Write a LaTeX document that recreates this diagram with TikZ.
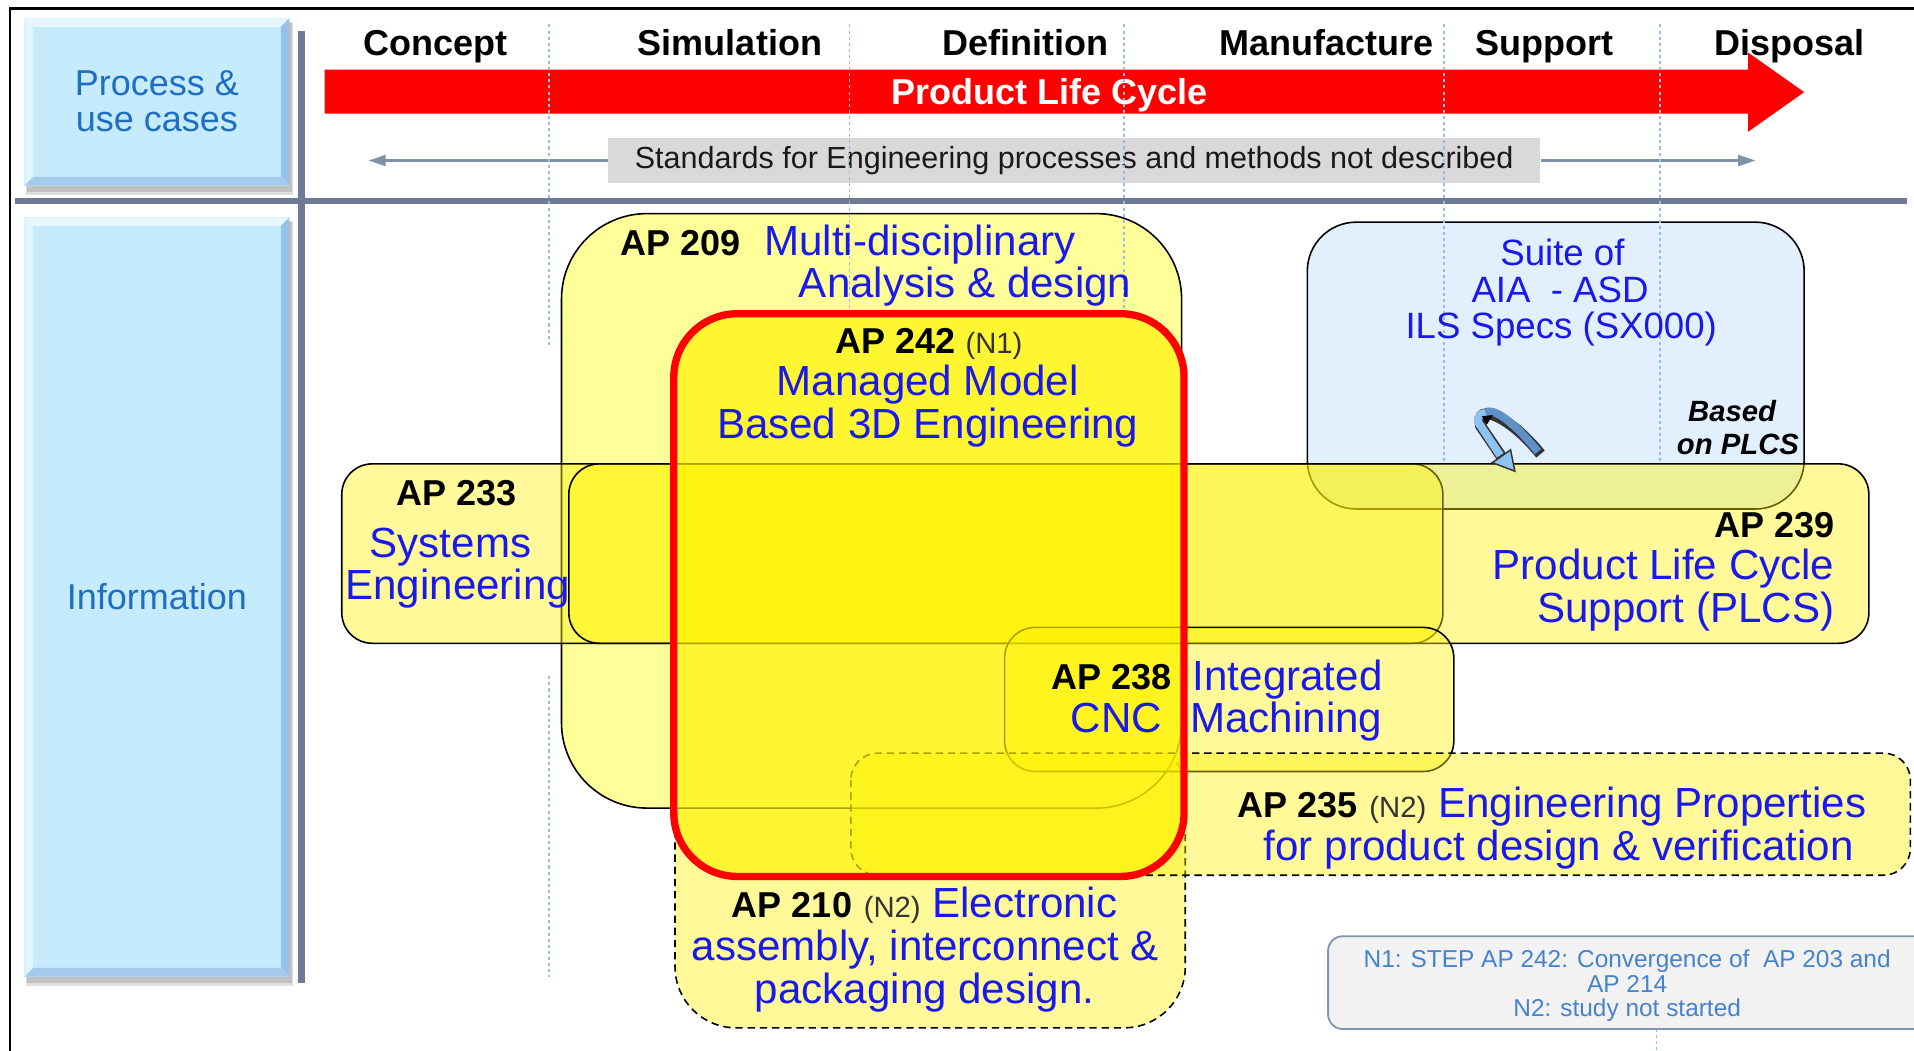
\documentclass[tikz,border=0pt]{standalone}
\usepackage{fontspec}
\setmainfont{Liberation Sans}
\usetikzlibrary{arrows.meta}

\definecolor{sidefill}{RGB}{198,235,252}
\definecolor{sidelight}{RGB}{232,247,254}
\definecolor{sidedark}{RGB}{150,193,232}
\definecolor{sidetext}{RGB}{31,110,195}
\definecolor{divider}{RGB}{111,123,148}
\definecolor{stdgray}{RGB}{217,217,217}
\definecolor{stdline}{RGB}{128,145,170}
\definecolor{dotblue}{RGB}{150,190,228}
\definecolor{apblue}{RGB}{25,25,235}
\definecolor{lightylw}{RGB}{255,255,153}
\definecolor{suitefill}{RGB}{226,239,252}
\definecolor{notefill}{RGB}{242,242,242}
\definecolor{noteline}{RGB}{132,151,176}
\definecolor{notetext}{RGB}{70,130,205}
\definecolor{uturn}{RGB}{140,195,240}
\definecolor{uturndark}{RGB}{95,145,200}

\newcommand\setfs[2]{\fontsize{#1}{#2}\selectfont}
% small grey note marker such as (N1)
\newcommand\notemark[1]{{\mdseries\setfs{24}{26}\color{black!80}(#1)}}
% bold black AP number inside blue text
\newcommand\apref[1]{{\bfseries\setfs{29.5}{32}\color{black}AP #1}}

% bevelled light-blue side panel: x1 y1 x2 y2
\newcommand\sidepanel[4]{%
  \fill[black!25, opacity=.5] (#1+1,#2+4) rectangle (#3+3,#4+8);
  \fill[black!35, opacity=.5] (#1+2,#2+3) rectangle (#3+2,#4+5);
  \fill[sidefill] (#1,#2) rectangle (#3,#4);
  \fill[sidelight] (#1,#2) -- (#3,#2) -- (#3-7,#2+7) -- (#1+7,#2+7) -- cycle;
  \fill[sidedark] (#3,#2) -- (#3,#4) -- (#3-7,#4-7) -- (#3-7,#2+7) -- cycle;
  \fill[sidedark!85!white] (#1,#4) -- (#3,#4) -- (#3-7,#4-7) -- (#1+7,#4-7) -- cycle;
  \fill[sidefill!55!white] (#1,#2) -- (#1+7,#2+7) -- (#1+7,#4-7) -- (#1,#4) -- cycle;
}

\begin{document}
\begin{tikzpicture}[x=1pt,y=-1pt,
  phase/.style={font=\bfseries\setfs{29.5}{32}, anchor=base, inner sep=0pt},
  sidelabel/.style={font=\setfs{29.5}{30}, text=sidetext, align=center, inner sep=0pt},
  apnum/.style={font=\bfseries\setfs{29.5}{32}, anchor=base, inner sep=0pt},
  aptext/.style={font=\setfs{34.5}{36}, text=apblue, anchor=base, inner sep=0pt},
  suitetext/.style={font=\setfs{30}{32}, text=apblue, anchor=base, inner sep=0pt},
  notetxt/.style={font=\setfs{20}{20}, text=notetext, anchor=base, inner sep=0pt},
  apbox/.style={draw=black, line width=1.3pt, fill=yellow, fill opacity=.4},
  dashbox/.style={apbox, dash pattern=on 6pt off 4pt},
  dotline/.style={dotblue, line width=1.4pt, dash pattern=on 2.5pt off 2.5pt},
  stdarrow/.style={stdline, line width=1.8pt, -{Triangle[length=14pt,width=9pt]}},
  stdbox/.style={fill=stdgray, minimum width=764pt, minimum height=37pt, inner sep=0pt,
    font=\setfs{25}{26}, text=black!90}
]
\useasboundingbox (0,0) rectangle (1568,861);
\fill[white] (0,0) rectangle (1568,861);

% outer frame
\draw[line width=2pt] (8,861) -- (8,7) -- (1568,7);

% side panels
\sidepanel{20}{15}{237}{152}
\sidepanel{20}{178}{237}{800}
\node[sidelabel] (proc) at (128.5,83) {Process \&\\use cases};
\node[sidelabel] (info) at (128.5,489) {Information};

% dividers
\draw[divider, line width=5pt] (247,25) -- (247,805);
\draw[divider, line width=5pt] (12,165) -- (1562,165);

% life-cycle arrow
\fill[red] (266,57) -- (1432,57) -- (1432,43) -- (1478,75.5) -- (1432,108) -- (1432,93) -- (266,93) -- cycle;
\node[font=\bfseries\setfs{29.5}{32}, text=white, anchor=base, inner sep=0pt] (plc) at (860,85.5) {Product Life Cycle};

% standards band
\node[stdbox] (std) at (880,131.5) {Standards for Engineering processes and methods not described};
\coordinate (stdL) at (302,131.5);
\coordinate (stdR) at (1438,131.5);
\draw[stdarrow] (std.west) -- (stdL);
\draw[stdarrow] (std.east) -- (stdR);

% phase labels
\node[phase] (concept) at (357,45.5) {Concept};
\node[phase] (simul) at (598,45.5) {Simulation};
\node[phase] (defin) at (840,45.5) {Definition};
\node[phase] (manuf) at (1087,45.5) {Manufacture};
\node[phase] (supp) at (1265,45.5) {Support};
\node[phase] (disp) at (1466,45.5) {Disposal};

% AP 210 (lowest layer)
\draw[dashbox, rounded corners=50pt] (553,600) rectangle (971,842);
% AP 209
\draw[draw=black, line width=1.3pt, fill=lightylw, rounded corners=70pt] (460,175) rectangle (968,662);
% AIA-ASD suite
\draw[draw=black, line width=1.3pt, fill=suitefill, rounded corners=40pt] (1071,182) rectangle (1478,417);

% phase separators
\draw[dotline] (450,20) -- (450,283);
\draw[dotline] (450,554) -- (450,800);
\draw[dotline] (696,20) -- (696,257);
\draw[dotline] (921,20) -- (921,257);
\draw[dotline] (1183,20) -- (1183,380);
\draw[dotline] (1360,20) -- (1360,380);
\draw[dotline] (1357,843) -- (1357,861);

% AP 233 and AP 239 bands
\draw[apbox, rounded corners=25pt] (280,380) rectangle (1182,527);
\draw[apbox, rounded corners=25pt] (466,380) rectangle (1531,527);
% AP 238
\draw[apbox, rounded corners=25pt] (823,514) rectangle (1191,632);
% AP 235
\draw[dashbox, rounded corners=22pt] (697,617) rectangle (1565,717);
% AP 242
\draw[red, line width=6pt, fill=yellow, fill opacity=.67, rounded corners=52pt] (552,257) rectangle (970,718);

% AP 209 text
\node[apnum, anchor=base west] (a209) at (508,209) {AP 209};
\node[aptext, anchor=base west] (a209t) at (626,209) {Multi-disciplinary};
\node[aptext, anchor=base east] (a209u) at (927,244) {Analysis \& design};

% AP 242 text
\node[apnum] (a242) at (761,289.5) {AP 242 \notemark{N1}};
\node[aptext] (a242t) at (760,324) {Managed Model};
\node[aptext] (a242u) at (760,359) {Based 3D Engineering};

% AP 233 text
\node[apnum] (a233) at (374,414.5) {AP 233};
\node[aptext] (a233t) at (369,457) {Systems};
\node[aptext] (a233u) at (375,491) {Engineering};

% AP 239 text
\node[apnum, anchor=base east] (a239) at (1503,440.5) {AP 239};
\node[aptext, anchor=base east] (a239t) at (1503,475) {Product Life Cycle};
\node[aptext, anchor=base east] (a239u) at (1503,510) {Support (PLCS)};

% AP 238 text
\node[apnum, anchor=base east] (a238) at (960,564.5) {AP 238};
\node[aptext, anchor=base east] (a238t) at (952,600) {CNC};
\node[aptext, anchor=base west] (a238u) at (977,566) {Integrated};
\node[aptext, anchor=base west] (a238v) at (975,600) {Machining};

% AP 235 text
\node[aptext] (a235) at (1271.5,670) {\apref{235} \notemark{N2} Engineering Properties};
\node[aptext] (a235t) at (1277,705) {for product design \& verification};

% AP 210 text
\node[aptext] (a210) at (757.5,752) {\apref{210} \notemark{N2} Electronic};
\node[aptext] (a210t) at (758,787) {assembly, interconnect \&};
\node[aptext] (a210u) at (757.5,822) {packaging design.};

% AIA-ASD suite text
\node[suitetext] (s1) at (1280,217.5) {Suite of};
\node[suitetext] (s2) at (1278,247.5) {AIA\ \ - ASD};
\node[suitetext] (s3) at (1279,277.5) {ILS Specs (SX000)};
\node[font=\bfseries\itshape\setfs{24}{26}, anchor=base, inner sep=0pt] (based) at (1419,345.5) {Based};
\node[font=\bfseries\itshape\setfs{24}{26}, anchor=base east, inner sep=0pt] (onplcs) at (1474,372.5) {on PLCS};

% u-turn arrow between the suite and PLCS
\draw[black!80, line width=9pt, line cap=butt] (1262,372) .. controls (1238,342) and (1208,328) .. (1213,349) -- (1230,374);
\draw[uturndark, line width=6.5pt, line cap=butt] (1260,370) .. controls (1237,342) and (1222,334) .. (1217,338);
\draw[uturn, line width=6.5pt, line cap=butt] (1217,338) .. controls (1210,340) and (1209,344) .. (1213,349) -- (1229,373);
\fill[uturn, draw=black!80, line width=1.2pt] (1237.5,368.5) -- (1241,386) -- (1222.5,379) -- cycle;
\fill[black] (1214,341) -- (1223,340) -- (1218,348) -- cycle;

% footnote box
\draw[noteline, line width=1.5pt, fill=notefill, rounded corners=12pt] (1088,767) rectangle (1600,843);
\node[notetxt] (n1) at (1333,793) {N1: STEP AP 242: Convergence of\ \ AP 203 and};
\node[notetxt] (n1b) at (1333,813) {AP 214};
\node[notetxt] (n2) at (1333,833) {N2: study not started};
\end{tikzpicture}
\end{document}
